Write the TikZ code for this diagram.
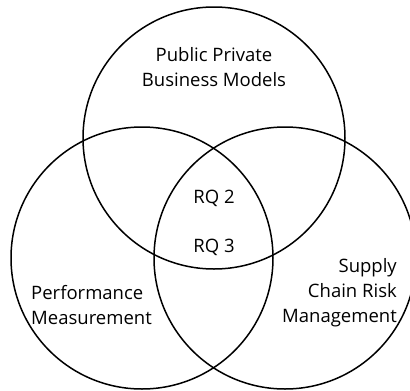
\documentclass[tikz,border=0pt]{standalone}
\usepackage{fontspec}
\setmainfont{Open Sans}
\begin{document}
\begin{tikzpicture}[x=1pt,y=-1pt,
  ring/.style={draw=black,line width=1.5pt},
  lbl/.style={font=\fontsize{18.5}{25}\selectfont,inner sep=0pt}]
\useasboundingbox (0,0) rectangle (410,391);
\draw[ring] (214,138) circle[radius=131];
\draw[ring] (142,258) circle[radius=131];
\draw[ring] (285,258) circle[radius=131];
\node[lbl,align=center] (ppbm) at (214,67) {Public Private\\Business Models};
\node[lbl] (rq2) at (214,198) {RQ 2};
\node[lbl] (rq3) at (214,247) {RQ 3};
\node[lbl,align=left,anchor=west] (pm) at (31,305) {Performance\\Measurement};
\node[lbl,align=right,anchor=east] (scrm) at (397,293) {Supply\\Chain Risk\\Management};
\end{tikzpicture}
\end{document}
